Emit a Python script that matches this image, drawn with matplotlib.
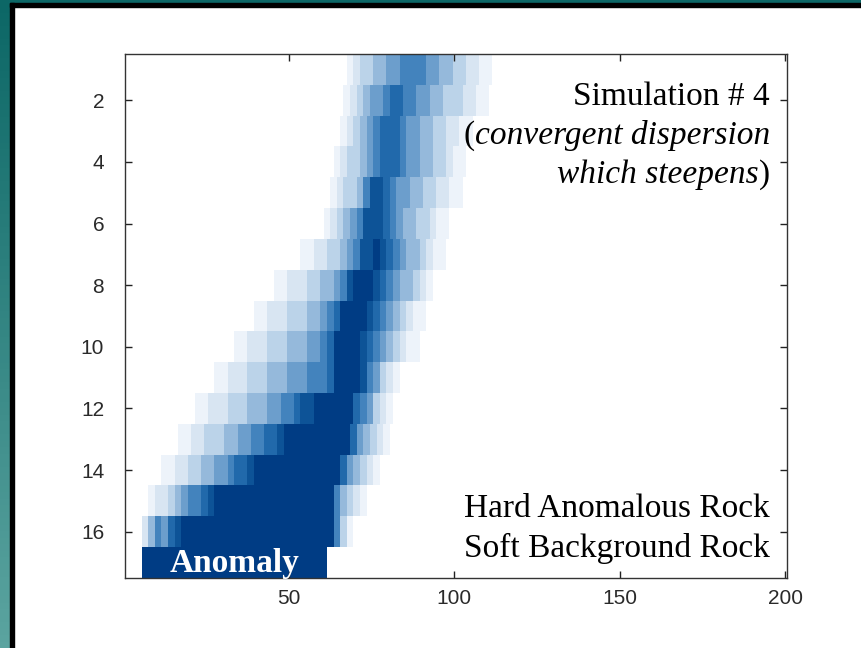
import numpy as np
import matplotlib
matplotlib.use('Agg')
import matplotlib.pyplot as plt
from matplotlib.colors import ListedColormap, LinearSegmentedColormap
from matplotlib.patches import Rectangle

# ---- data ----
# each row: first column of the band, then one intensity level (0-9) per 2 columns
band_start = [68, 67, 66, 64, 63, 61, 54, 46, 40, 34, 28, 22, 17, 12, 8, 6, 6]
band_levels = [
    "1233445566665544332211",
    "1234556776655443332211",
    "12345677765544332211",
    "12334567776554433211",
    "12334688765544332211",
    "1234568887654433211",
    "1122334568898765443211",
    "112223344568999876544321",
    "11222333445679999876543211",
    "1122233344455679999876543211",
    "1122233344455566679999865321",
    "112223334445566788999999765321",
    "11223334455667789999999999754321",
    "112233445567789999999999999754321",
    "122345667899999999999999999964321",
    "24657899999999999999999999999631",
    "9999999999999999999999999999",
]
n_cols = 200
x_ticks = [50, 100, 150, 200]
y_ticks = [2, 4, 6, 8, 10, 12, 14, 16]

level_colors = ['#ffffff', '#edf3fa', '#d8e5f2', '#bbd3e9', '#95b9db',
                '#6c9ecc', '#4383bd', '#2169ab', '#0d5397', '#003c84']

img = np.zeros((len(band_levels), n_cols))
for r, (s, lev) in enumerate(zip(band_start, band_levels)):
    for i, ch in enumerate(lev):
        c0 = s - 1 + 2 * i
        img[r, c0:c0 + 2] = int(ch)

fig = plt.figure(figsize=(8.62, 6.48), dpi=100)
fig.patch.set_facecolor('white')

# slide frame: teal strip on the left / top, black line inside it
W, H = 862, 648
grad = fig.add_axes([0, 0, 10 / W, 1])
grad.imshow(np.linspace(0, 1, 100).reshape(-1, 1), aspect='auto',
            cmap=LinearSegmentedColormap.from_list('teal', ['#0c6766', '#5ba4a0']))
grad.axis('off')
fig.patches.append(Rectangle((0, 1 - 3 / H), 1, 3 / H, transform=fig.transFigure,
                             color='#0c6766', zorder=1))
fig.patches.append(Rectangle((10 / W, 1 - 7 / H), 1, 4 / H, transform=fig.transFigure,
                             color='black', zorder=1))
fig.patches.append(Rectangle((10 / W, 0), 4 / W, 1 - 3 / H, transform=fig.transFigure,
                             color='black', zorder=1))

ax = fig.add_axes([125 / W, 70 / H, 662 / W, 524 / H])
ax.imshow(img, cmap=ListedColormap(level_colors), vmin=-0.5, vmax=9.5,
          interpolation='nearest', aspect='auto',
          extent=(0.5, n_cols + 0.5, len(band_levels) + 0.5, 0.5))

ax.set_xticks(x_ticks)
ax.set_yticks(y_ticks)
ax.tick_params(direction='in', length=5, width=1, top=True, right=True,
               labelsize=15, labelcolor='#2a2a2a', color='#222222')
ax.tick_params(axis='x', pad=8)
ax.tick_params(axis='y', pad=15)
for lab in ax.get_xticklabels() + ax.get_yticklabels():
    lab.set_family('Liberation Sans')
for sp in ax.spines.values():
    sp.set_color('#333333')
    sp.set_linewidth(1)

serif = 'Liberation Serif'
fs = 24
xr = (770 - 125) / 662
ax.text(xr, (578 - 105) / 524, "Simulation # 4", transform=ax.transAxes,
        ha='right', va='baseline', family=serif, fontsize=fs)
t2 = ax.text(xr, (578 - 144) / 524, "convergent dispersion", transform=ax.transAxes,
             ha='right', va='baseline', family=serif, style='italic', fontsize=fs)
ax.annotate("(", xy=(0, 0), xycoords=t2, ha='right', va='bottom',
            family=serif, fontsize=fs)
t3 = ax.text(xr, (578 - 183) / 524, ")", transform=ax.transAxes,
             ha='right', va='baseline', family=serif, fontsize=fs)
ax.annotate("which steepens", xy=(0, 0), xycoords=t3, ha='right', va='bottom',
            family=serif, style='italic', fontsize=fs)

ax.text(xr, (578 - 517) / 524, "Hard Anomalous Rock", transform=ax.transAxes,
        ha='right', va='baseline', family=serif, fontsize=fs)
ax.text(xr, (578 - 557) / 524, "Soft Background Rock", transform=ax.transAxes,
        ha='right', va='baseline', family=serif, fontsize=fs)

ax.text(33.5, 17.3, "Anomaly", ha='center', va='baseline', family=serif,
        fontweight='bold', color='white', fontsize=24, clip_on=False)

fig.savefig('out.png', dpi=100)
